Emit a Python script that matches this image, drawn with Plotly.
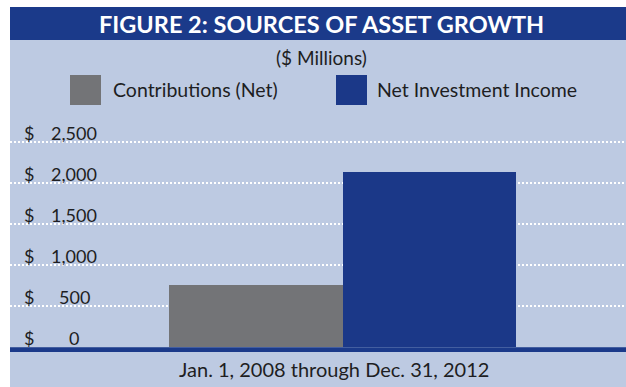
import plotly.graph_objects as go

# Data ($ millions), Jan. 1, 2008 through Dec. 31, 2012
series = ["Contributions (Net)", "Net Investment Income"]
values = [755, 2130]
colors = ["#737477", "#1b3888"]
tick_values = [0, 500, 1000, 1500, 2000, 2500]
tick_numbers = ["0", "500", "1,000", "1,500", "2,000", "2,500"]
period_label = "Jan. 1, 2008 through Dec. 31, 2012"
title_text = "FIGURE 2: SOURCES OF ASSET GROWTH"
units_text = "($ Millions)"

W, H = 626, 387
PANEL = "#bdcae2"
NAVY = "#1b3a8a"
INK = "#1e1e22"
FONT = "Lato"

# plot-area geometry in pixels
L, R, T, B = 10, 0, 120, 35
pw, ph = W - L - R, H - T - B


def px_x(px):
    return (px - L) / pw


def px_y(py):
    return (H - B - py) / ph


fig = go.Figure()
for i, (name, v, c) in enumerate(zip(series, values, colors)):
    fig.add_trace(go.Bar(x=[i], y=[v], width=1.0, marker=dict(color=c, line=dict(width=0)),
                         name=name, showlegend=False, hoverinfo="skip"))

shapes = [
    # white margin strips outside the panel
    dict(type="rect", xref="paper", yref="paper", x0=px_x(0), x1=px_x(L), y0=px_y(H), y1=px_y(0),
         fillcolor="white", line_width=0, layer="below"),
    dict(type="rect", xref="paper", yref="paper", x0=px_x(0), x1=px_x(W), y0=px_y(7), y1=px_y(0),
         fillcolor="white", line_width=0, layer="below"),
    # title band
    dict(type="rect", xref="paper", yref="paper", x0=px_x(L), x1=px_x(W), y0=px_y(40), y1=px_y(7),
         fillcolor=NAVY, line_width=0, layer="above"),
    # baseline rule
    dict(type="rect", xref="paper", yref="y", x0=0, x1=1, y0=-61, y1=-4,
         fillcolor=NAVY, line_width=0, layer="above"),
]

# legend swatches
legend_pos = [(70, 111), (336, 375)]
for (sx, tx), c in zip(legend_pos, colors):
    shapes.append(dict(type="rect", xref="paper", yref="paper", x0=px_x(sx), x1=px_x(sx + 31),
                       y0=px_y(105), y1=px_y(75), fillcolor=c, line_width=0))

annotations = [
    dict(text=f"<b>{title_text}</b>", xref="paper", yref="paper", x=px_x(322), y=px_y(24),
         xanchor="center", yanchor="middle", showarrow=False,
         font=dict(family=FONT, size=23.5, color="white")),
    dict(text=units_text, xref="paper", yref="paper", x=px_x(322), y=px_y(57),
         xanchor="center", yanchor="middle", showarrow=False,
         font=dict(family=FONT, size=19, color=INK)),
    dict(text=period_label, xref="paper", yref="paper", x=px_x(334), y=px_y(369),
         xanchor="center", yanchor="middle", showarrow=False,
         font=dict(family=FONT, size=20, color=INK)),
]
for (sx, tx), name in zip(legend_pos, series):
    annotations.append(dict(text=name, xref="paper", yref="paper", x=px_x(tx), y=px_y(90),
                            xanchor="left", yanchor="middle", showarrow=False,
                            font=dict(family=FONT, size=19.5, color=INK)))

# value axis labels: "$" column plus centred figures, sitting just above each rule
for v, t in zip(tick_values, tick_numbers):
    annotations.append(dict(text="$", xref="paper", yref="y", x=px_x(22), y=v, yshift=9,
                            xanchor="left", yanchor="middle", showarrow=False,
                            font=dict(family=FONT, size=18, color=INK)))
    annotations.append(dict(text=t, xref="paper", yref="y", x=px_x(74), y=v, yshift=9,
                            xanchor="center", yanchor="middle", showarrow=False,
                            font=dict(family=FONT, size=18, color=INK)))

fig.update_layout(
    width=W, height=H,
    margin=dict(l=L, r=R, t=T, b=B, pad=0),
    paper_bgcolor=PANEL, plot_bgcolor=PANEL,
    barmode="overlay", bargap=0,
    shapes=shapes, annotations=annotations,
    xaxis=dict(range=[-1.419, 2.136], showgrid=False, zeroline=False, showticklabels=False,
               ticks="", fixedrange=True),
    yaxis=dict(range=[-61, 2768], tickvals=tick_values[1:], showticklabels=False, ticks="",
               showgrid=True, gridcolor="white", gridwidth=2, griddash="2px,2px",
               zeroline=False, fixedrange=True),
)

fig.write_html("out.html")
